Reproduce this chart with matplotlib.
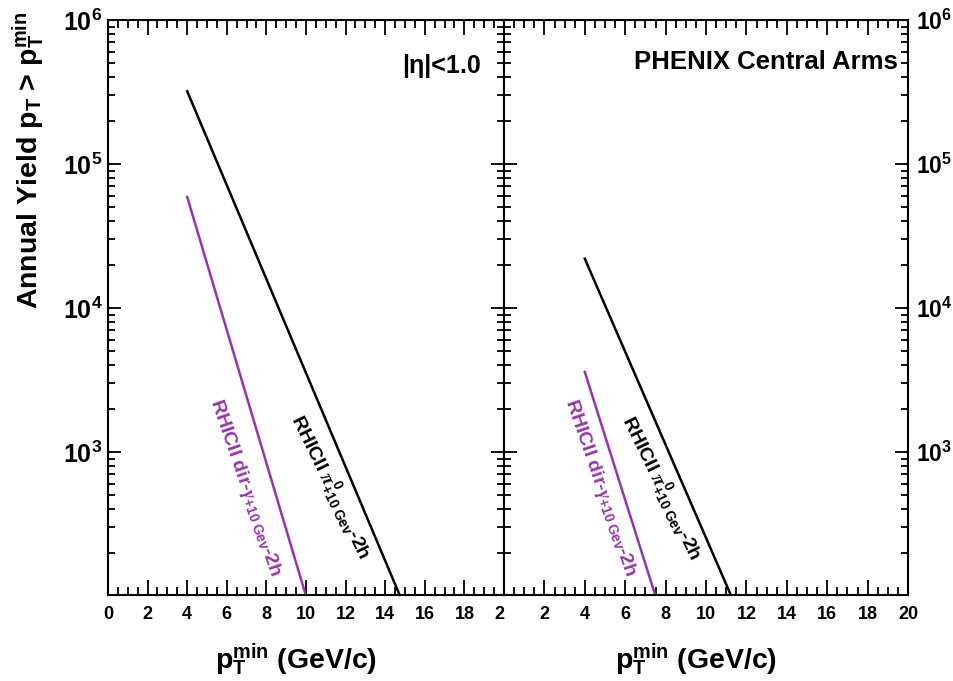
import numpy as np
import matplotlib
matplotlib.use('Agg')
import matplotlib.pyplot as plt
from matplotlib.ticker import MultipleLocator, LogLocator, NullFormatter

plt.rcParams['font.family'] = ['Liberation Sans', 'DejaVu Sans']
plt.rcParams['font.weight'] = 'bold'
plt.rcParams['mathtext.fontset'] = 'custom'
plt.rcParams['mathtext.rm'] = 'Liberation Sans:bold'
plt.rcParams['mathtext.bf'] = 'Liberation Sans:bold'
plt.rcParams['mathtext.sf'] = 'Liberation Sans:bold'
plt.rcParams['mathtext.it'] = 'Liberation Serif:italic'

# ---------------- data ----------------
# left panel |eta|<1.0
left_pi0_pt = [4.0, 14.75]
left_pi0_yield = [3.2e5, 100.0]
left_gam_pt = [4.0, 10.0]
left_gam_yield = [5.9e4, 100.0]
# right panel PHENIX Central Arms
right_pi0_pt = [4.0, 11.25]
right_pi0_yield = [2.2e4, 100.0]
right_gam_pt = [4.0, 7.5]
right_gam_yield = [3.6e3, 100.0]

x_major = list(range(0, 21, 2))
left_xlabels = ['0', '2', '4', '6', '8', '10', '12', '14', '16', '18', '2']
right_xlabels = ['', '2', '4', '6', '8', '10', '12', '14', '16', '18', '20']
y_major = [1e3, 1e4, 1e5, 1e6]
y_labels = [r'$\mathbf{10^{3}}$', r'$\mathbf{10^{4}}$', r'$\mathbf{10^{5}}$', r'$\mathbf{10^{6}}$']

pi0_label = r'RHICII $\pi^{0}_{+10\ \mathrm{Gev}}$-2h'
gam_label = r'RHICII dir-$\gamma_{+10\ \mathrm{Gev}}$-2h'

PURPLE = '#9932B0'
W, H = 954, 681

fig = plt.figure(figsize=(W / 100, H / 100), dpi=100)

def fx(px):
    return px / W

def fy(py):
    return 1 - py / H

ax_l = fig.add_axes([fx(108), fy(595), (504 - 108) / W, (595 - 20) / H])
ax_r = fig.add_axes([fx(504), fy(595), (908 - 504) / W, (595 - 20) / H])

for ax in (ax_l, ax_r):
    ax.set_yscale('log')
    ax.set_xlim(0, 20)
    ax.set_ylim(101.6, 1e6)
    ax.xaxis.set_minor_locator(MultipleLocator(0.5))
    ax.yaxis.set_minor_locator(LogLocator(base=10, subs=np.arange(2, 10)))
    ax.yaxis.set_minor_formatter(NullFormatter())
    ax.tick_params(which='both', direction='in', top=True, right=True,
                   bottom=True, left=True, width=1.3, color='black')
    ax.tick_params(axis='x', which='major', length=11, labelsize=13, pad=8)
    ax.tick_params(axis='x', which='minor', length=5.5)
    ax.tick_params(axis='y', which='major', length=9.5)
    ax.tick_params(axis='y', which='minor', length=5)
    for s in ax.spines.values():
        s.set_linewidth(1.5)

ax_l.set_xticks(x_major, labels=left_xlabels)
ax_r.set_xticks(x_major, labels=right_xlabels)
ax_l.get_xticklabels()[-1].set_horizontalalignment('right')
ax_l.set_yticks(y_major, labels=y_labels)
ax_r.set_yticks(y_major, labels=y_labels)
ax_l.tick_params(axis='y', labelleft=True, labelright=False, pad=4, labelsize=18)
ax_r.tick_params(axis='y', labelleft=False, labelright=True, pad=6, labelsize=16.5)

ax_l.plot(left_pi0_pt, left_pi0_yield, color='black', lw=1.8)
ax_l.plot(left_gam_pt, left_gam_yield, color=PURPLE, lw=1.8)
ax_r.plot(right_pi0_pt, right_pi0_yield, color='black', lw=1.8)
ax_r.plot(right_gam_pt, right_gam_yield, color=PURPLE, lw=1.8)

# panel labels
fig.text(fx(481), fy(66), '|η|<1.0', ha='right', va='center', fontsize=18,
         fontweight='bold')
fig.text(fx(898), fy(62), 'PHENIX Central Arms', ha='right', va='center',
         fontsize=18.5, fontweight='bold')

# rotated line labels
fig.text(fx(330), fy(487), pi0_label, rotation=-64, rotation_mode='anchor',
         ha='center', va='center', fontsize=14, color='black')
fig.text(fx(245), fy(488), gam_label, rotation=-71, rotation_mode='anchor',
         ha='center', va='center', fontsize=14, color=PURPLE)
fig.text(fx(661), fy(488), pi0_label, rotation=-64, rotation_mode='anchor',
         ha='center', va='center', fontsize=14, color='black')
fig.text(fx(600), fy(488), gam_label, rotation=-71, rotation_mode='anchor',
         ha='center', va='center', fontsize=14, color=PURPLE)

# axis titles
xt = r'$\mathrm{p}_{\mathrm{T}}^{\mathrm{min}}$ (GeV/c)'
fig.text(fx(296), fy(660), xt, ha='center', va='center', fontsize=20.5, fontweight='bold')
fig.text(fx(696), fy(660), xt, ha='center', va='center', fontsize=20.5, fontweight='bold')
yt = r'Annual Yield $\mathrm{p}_{\mathrm{T}}$ > $\mathrm{p}_{\mathrm{T}}^{\mathrm{min}}$'
fig.text(fx(29), fy(160), yt, ha='center', va='center', rotation=90, fontsize=20.5,
         fontweight='bold')

fig.savefig('out.png', dpi=100)
